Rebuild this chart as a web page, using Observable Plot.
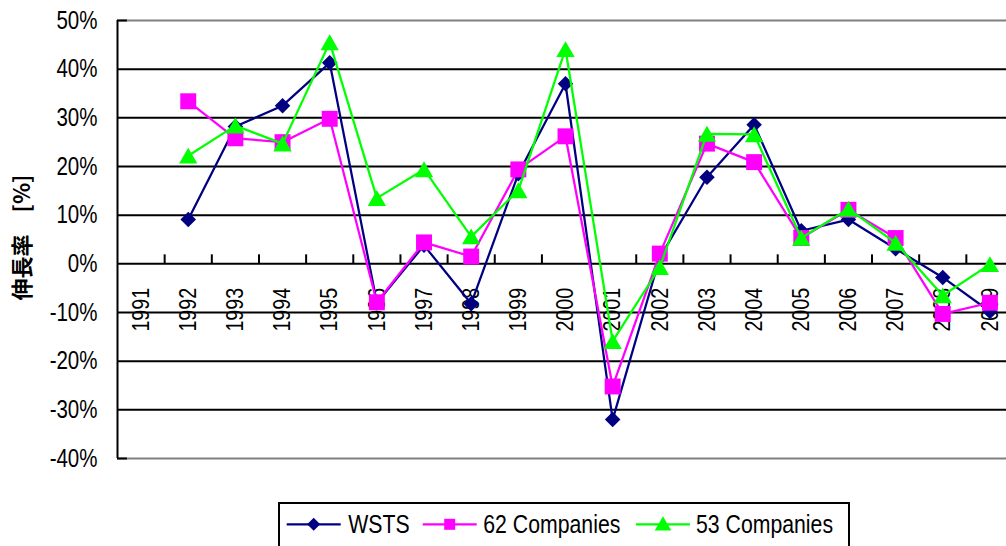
<!DOCTYPE html>
<html>
<head>
<meta charset="utf-8">
<script src="https://cdn.jsdelivr.net/npm/d3@7"></script>
<script src="https://cdn.jsdelivr.net/npm/@observablehq/plot@0.6"></script>
<style>
  html, body { margin: 0; padding: 0; background: #fff; overflow: hidden; }
  #wrap { position: relative; width: 1006px; height: 546px; }
  #legend { position: absolute; left: 278px; top: 502px; }
</style>
</head>
<body>
<div id="wrap">
  <div id="chart"></div>
  <svg id="legend" width="640" height="44"></svg>
</div>
<script>
const years = [1991,1992,1993,1994,1995,1996,1997,1998,1999,2000,2001,2002,2003,2004,2005,2006,2007,2008,2009];
const wsts  = [null, 9.1, 28.2, 32.5, 41.3, -8.0, 3.8, -8.2, 18.5, 37.0, -32.0, 1.3, 17.8, 28.6, 6.8, 9.1, 3.1, -2.8, -9.8];
const co62  = [null, 33.4, 25.8, 25.0, 29.8, -7.9, 4.4, 1.5, 19.4, 26.2, -25.2, 2.1, 24.7, 20.9, 5.3, 11.1, 5.3, -10.3, -8.0];
const co53  = [null, 22.2, 28.4, 24.7, 45.5, 13.5, 19.4, 5.6, 15.1, 44.1, -15.9, -0.7, 26.7, 26.6, 5.3, 11.3, 4.3, -6.5, -0.1];
const seriesNames  = ["WSTS", "62 Companies", "53 Companies"];
const seriesColors = ["#000080", "#FF00FF", "#00FF00"];
const seriesSymbols = ["diamond2", "square", "triangle"];
const yTicks = [-40, -30, -20, -10, 0, 10, 20, 30, 40, 50];
const yTitle = "伸長率　[%]";

const latin = "'Liberation Sans', Arial, sans-serif";
const cjk = "'Noto Sans CJK JP', 'Noto Sans CJK SC', sans-serif";

const seriesValues = [wsts, co62, co53];
const series = seriesValues.map((arr, s) =>
  years.map((yr, i) => ({year: yr, value: arr[i], name: seriesNames[s]})).filter(d => d.value != null));

const x0 = years[0] - 0.5, x1 = years[years.length - 1] + 0.5;
const boundaries = years.map(y => y + 0.5);
const yMin = yTicks[0], yMax = yTicks[yTicks.length - 1];

const marks = [
  Plot.ruleY(yTicks.filter(t => t > yMin && t < yMax), {stroke: "black", strokeWidth: 2}),
  Plot.ruleY([yMin, yMax], {stroke: "#808080", strokeWidth: 2}),
  Plot.ruleY([yMin, yMax], {x1: x0, x2: x0 + 0.21, stroke: "black", strokeWidth: 2}),
  Plot.ruleX([x0], {y1: yMin, y2: yMax, stroke: "black", strokeWidth: 2}),
  Plot.ruleX(boundaries, {y1: 0, y2: 1.85, stroke: "black", strokeWidth: 2}),
  Plot.axisY(yTicks, {tickSize: 0, tickPadding: 20, tickFormat: d => d + "%", fontSize: 25, fill: "black", label: null}),
  Plot.text(years, {x: d => d, y: 0, text: d => String(d), rotate: -90, textAnchor: "end", dy: 24, fontSize: 24, fill: "black"}),
  Plot.text([yTitle], {frameAnchor: "left", textAnchor: "middle", rotate: -90, dx: -94.5, dy: -2, fontSize: 22, fontWeight: "bold", fontFamily: cjk, fill: "black"})
];
const rs = [7.0, 9.0, 6.8];
const dys = [0, 0, 2.5];
series.forEach((data, s) => {
  marks.push(Plot.line(data, {x: "year", y: "value", stroke: seriesColors[s], strokeWidth: 2.25}));
  marks.push(Plot.dot(data, {x: "year", y: "value", symbol: seriesSymbols[s], r: rs[s], fill: seriesColors[s], stroke: "none", dy: dys[s]}));
});

const chart = Plot.plot({
  width: 1006,
  height: 500,
  marginTop: 20,
  marginBottom: 42,
  marginLeft: 117,
  marginRight: 0,
  style: {fontFamily: latin, fontSize: "24px", background: "white", color: "black", overflow: "hidden"},
  x: {type: "linear", domain: [x0, x1], range: [117, 1013], axis: null},
  y: {domain: [yMin, yMax], range: [458, 20], axis: null},
  marks
});
document.getElementById("chart").appendChild(chart);

// Legend
const lg = d3.select("#legend");
lg.append("rect").attr("x", 1).attr("y", 1).attr("width", 570).attr("height", 60)
  .attr("fill", "white").attr("stroke", "black").attr("stroke-width", 2);
const lineStarts = [8.7, 144.7, 358];
const textStarts = [70.3, 205.3, 418];
const symSizes = [108, 121, 120];
seriesNames.forEach((name, s) => {
  const xs = lineStarts[s];
  lg.append("line").attr("x1", xs).attr("x2", xs + 54).attr("y1", 22.3).attr("y2", 22.3)
    .attr("stroke", seriesColors[s]).attr("stroke-width", 2.25);
  const sym = [d3.symbolDiamond2, d3.symbolSquare, d3.symbolTriangle][s];
  lg.append("path").attr("d", d3.symbol(sym, symSizes[s])())
    .attr("transform", `translate(${xs + 27},${22.3 + (s === 2 ? 1.5 : 0)})`)
    .attr("fill", seriesColors[s]);
  lg.append("text").attr("x", textStarts[s]).attr("y", 30.7).text(name)
    .attr("font-family", latin).attr("font-size", 25).attr("fill", "black");
});

// Narrow (Arial Narrow-like) rendering of Latin texts
function narrow(root, k) {
  root.querySelectorAll("text").forEach(t => {
    if (/[\u3000-\u9fff]/.test(t.textContent)) return;
    const w = t.getComputedTextLength();
    if (w > 0) {
      t.setAttribute("textLength", (w * k).toFixed(2));
      t.setAttribute("lengthAdjust", "spacingAndGlyphs");
    }
  });
}
narrow(chart, 0.82);
narrow(document.getElementById("legend"), 0.85);
</script>
</body>
</html>
